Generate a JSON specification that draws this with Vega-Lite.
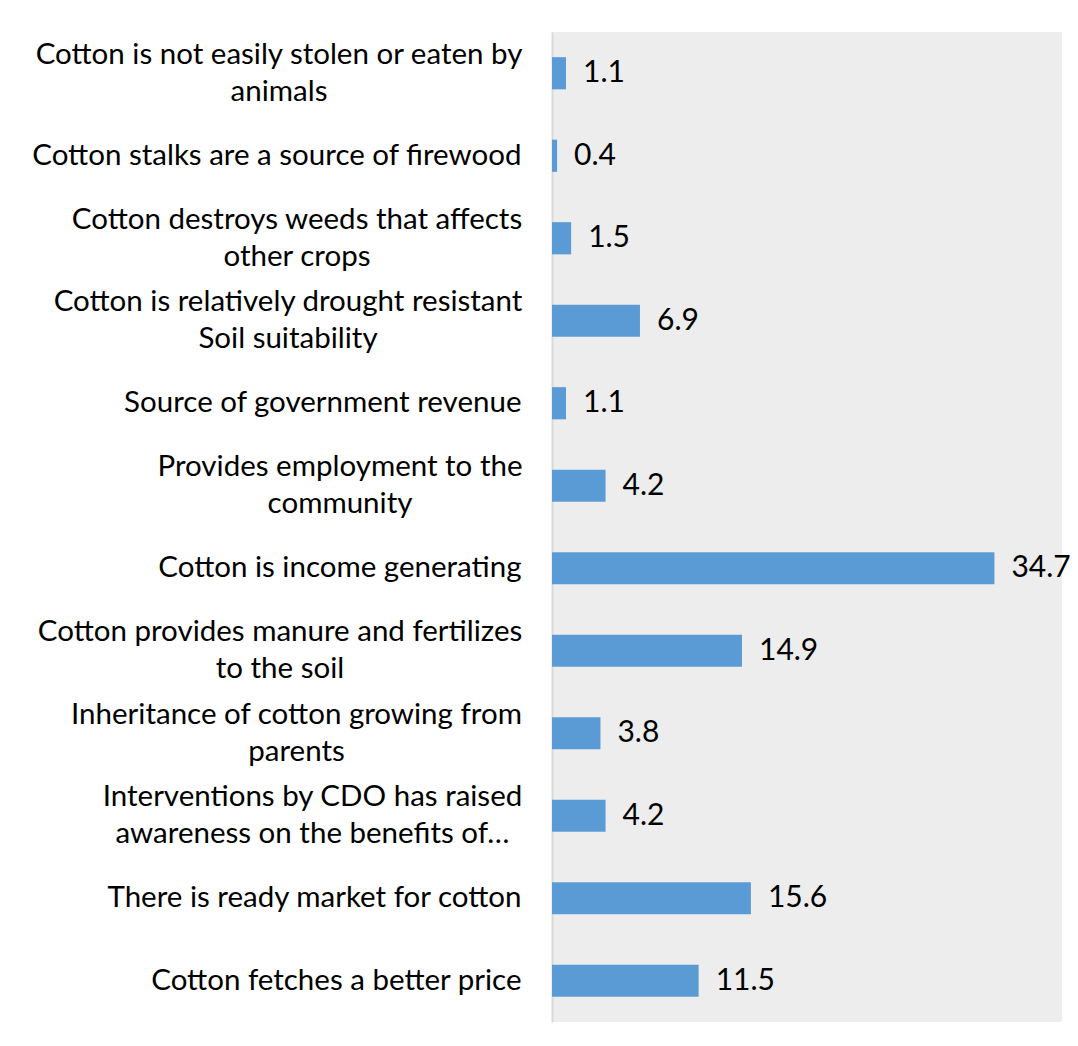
{
  "$schema": "https://vega.github.io/schema/vega-lite/v6.json",
  "width": 510,
  "height": 990,
  "autosize": {"type": "none"},
  "padding": {"left": 552, "top": 32, "right": 16, "bottom": 24},
  "background": "white",
  "config": {
    "view": {"fill": "#ededed", "stroke": null},
    "font": "Lato"
  },
  "data": {
    "values": [
      {"order": 1, "reason": "Cotton is not easily stolen or eaten by|animals", "pct": 1.1},
      {"order": 2, "reason": "Cotton stalks are a source of firewood", "pct": 0.4},
      {"order": 3, "reason": "Cotton destroys weeds that affects|other crops", "pct": 1.5},
      {"order": 4, "reason": "Cotton is relatively drought resistant|Soil suitability", "pct": 6.9},
      {"order": 5, "reason": "Source of government revenue", "pct": 1.1},
      {"order": 6, "reason": "Provides employment to the|community", "pct": 4.2},
      {"order": 7, "reason": "Cotton is income generating", "pct": 34.7},
      {"order": 8, "reason": "Cotton provides manure and fertilizes|to the soil", "pct": 14.9},
      {"order": 9, "reason": "Inheritance of cotton growing from|parents", "pct": 3.8},
      {"order": 10, "reason": "Interventions by CDO has raised|awareness on the benefits of…", "pct": 4.2},
      {"order": 11, "reason": "There is ready market for cotton", "pct": 15.6},
      {"order": 12, "reason": "Cotton fetches a better price", "pct": 11.5}
    ]
  },
  "encoding": {
    "y": {
      "field": "reason",
      "type": "nominal",
      "sort": {"field": "order"},
      "scale": {"paddingInner": 0.61, "paddingOuter": 0.305},
      "axis": {
        "title": null,
        "domain": true,
        "domainColor": "#d9d9d9",
        "domainWidth": 2,
        "ticks": false,
        "grid": false,
        "labelFontSize": 29.5,
        "labelColor": "#000000",
        "labelLimit": 1000,
        "labelLineHeight": 37,
        "labelAlign": {"condition": {"test": "indexof(datum.value, '|') >= 0", "value": "center"}, "value": "right"},
        "labelPadding": {
          "condition": [
            {"test": "indexof(datum.value, 'stolen') >= 0", "value": 273.5},
            {"test": "indexof(datum.value, 'weeds') >= 0", "value": 255.5},
            {"test": "indexof(datum.value, 'drought') >= 0", "value": 264.5},
            {"test": "indexof(datum.value, 'employment') >= 0", "value": 212.5},
            {"test": "indexof(datum.value, 'manure') >= 0", "value": 272.5},
            {"test": "indexof(datum.value, 'Inheritance') >= 0", "value": 256},
            {"test": "indexof(datum.value, 'Interventions') >= 0", "value": 240}
          ],
          "value": 31
        },
        "labelOffset": {"condition": {"test": "indexof(datum.value, '|') >= 0", "value": -18.5}, "value": 0},
        "labelExpr": "split(datum.value, '|')"
      }
    },
    "x": {
      "field": "pct",
      "type": "quantitative",
      "scale": {"domain": [0, 40], "nice": false},
      "axis": null
    }
  },
  "layer": [
    {"mark": {"type": "bar", "color": "#5b9bd5"}},
    {
      "mark": {"type": "text", "align": "left", "baseline": "middle", "dx": 17, "fontSize": 30, "color": "#000000"},
      "encoding": {"text": {"field": "pct", "type": "quantitative", "format": ".1f"}}
    }
  ]
}
